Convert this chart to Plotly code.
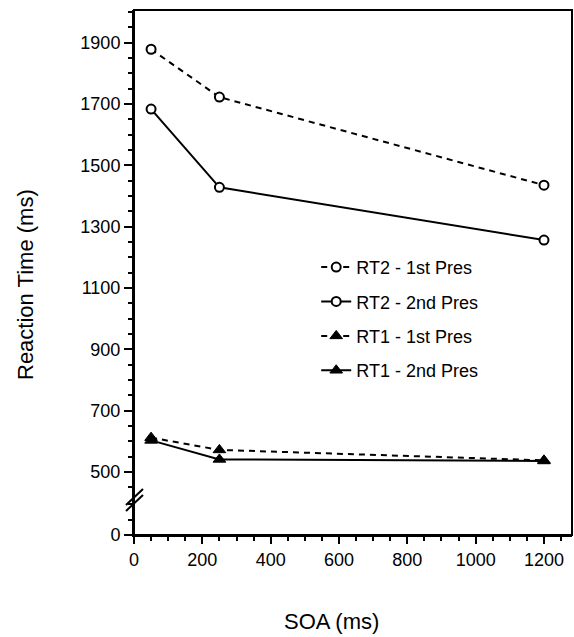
import plotly.graph_objects as go

soa = [50, 250, 1200]
rt2_1st = [1878, 1722, 1435]
rt2_2nd = [1683, 1428, 1256]
rt1_1st = [612, 572, 538]
rt1_2nd = [603, 541, 536]

series_names = ["RT2 - 1st Pres", "RT2 - 2nd Pres", "RT1 - 1st Pres", "RT1 - 2nd Pres"]
series_vals = [rt2_1st, rt2_2nd, rt1_1st, rt1_2nd]
series_dash = ["6px,5px", "solid", "6px,5px", "solid"]
series_sym = ["circle", "circle", "triangle-up", "triangle-up"]

y_ticks_upper = [500, 700, 900, 1100, 1300, 1500, 1700, 1900]
y_ticks_lower = [0]
x_ticks = [0, 200, 400, 600, 800, 1000, 1200]

FONT = "Liberation Sans"
W, H = 574, 637
L, R, T, B = 134, 2, 10, 102
plot_h = H - T - B
break_px = 35
split = break_px / plot_h
PX_PER_MS = 0.3068

fig = go.Figure()
# empty trace so the lower (0) panel of the broken axis exists
fig.add_trace(go.Scatter(x=[], y=[], xaxis="x", yaxis="y", showlegend=False,
                         hoverinfo="skip", mode="markers"))
for i, (name, vals) in enumerate(zip(series_names, series_vals)):
    is_circle = series_sym[i] == "circle"
    fig.add_trace(go.Scatter(
        x=soa, y=vals, name=name, mode="lines+markers",
        xaxis="x", yaxis="y2",
        legendgroup=f"g{i}",
        line=dict(color="black", width=2, dash=series_dash[i]),
        marker=dict(symbol=series_sym[i],
                    size=9 if is_circle else 11,
                    color="white" if is_circle else "black",
                    line=dict(color="black", width=2 if is_circle else 1)),
    ))

axis_common = dict(showline=True, linecolor="black", linewidth=2, showgrid=False,
                   zeroline=False, ticks="outside", tickcolor="black", tickwidth=1.5,
                   tickfont=dict(family=FONT, size=18, color="black"))
minor_common = dict(dtick=50, tick0=0, ticklen=4, ticks="outside",
                    tickcolor="black", tickwidth=1.5)

bottom_px = H - B - break_px
fig.update_layout(
    width=W, height=H,
    margin=dict(l=L, r=R, t=T, b=B),
    paper_bgcolor="white", plot_bgcolor="white",
    showlegend=True,
    legend=dict(x=0.416, y=0.545, xanchor="left", yanchor="top",
                font=dict(family=FONT, size=18, color="black"),
                bgcolor="rgba(0,0,0,0)", borderwidth=0,
                traceorder="grouped", tracegroupgap=8),
    xaxis=dict(axis_common, range=[0, 1282], tickvals=x_ticks, ticklen=7,
               anchor="y", minor=minor_common),
    yaxis=dict(axis_common, domain=[0, split], range=[0, break_px / PX_PER_MS],
               tickvals=y_ticks_lower, ticklen=8, anchor="x", minor=minor_common),
    yaxis2=dict(axis_common, domain=[split, 1],
                range=[500 - (bottom_px - 472) / PX_PER_MS, 1900 + (42.5 - T) / PX_PER_MS],
                tickvals=y_ticks_upper, ticklen=8, anchor="x", minor=minor_common),
)

fig.add_shape(type="rect", xref="paper", yref="paper", x0=0, x1=1, y0=0, y1=1,
              line=dict(color="black", width=2), fillcolor="rgba(0,0,0,0)", layer="above")


def px_to_paper_x(px):
    return (px - L) / (W - L - R)


def py_to_paper_y(py):
    return (H - B - py) / plot_h


# axis break marks
for dy in (0, 6):
    fig.add_shape(type="line", xref="paper", yref="paper",
                  x0=px_to_paper_x(126), y0=py_to_paper_y(511 - dy),
                  x1=px_to_paper_x(143), y1=py_to_paper_y(495 - dy),
                  line=dict(color="black", width=2))

fig.add_annotation(text="SOA (ms)", xref="paper", yref="paper",
                   x=px_to_paper_x(331), y=py_to_paper_y(621),
                   showarrow=False, xanchor="center", yanchor="middle",
                   font=dict(family=FONT, size=22, color="black"))
fig.add_annotation(text="Reaction Time (ms)", xref="paper", yref="paper",
                   x=px_to_paper_x(25), y=py_to_paper_y(285),
                   showarrow=False, xanchor="center", yanchor="middle", textangle=-90,
                   font=dict(family=FONT, size=22, color="black"))

fig.write_html("out.html", config={"displayModeBar": False},
               post_script="document.body.style.margin='0';document.body.style.overflow='hidden';")
